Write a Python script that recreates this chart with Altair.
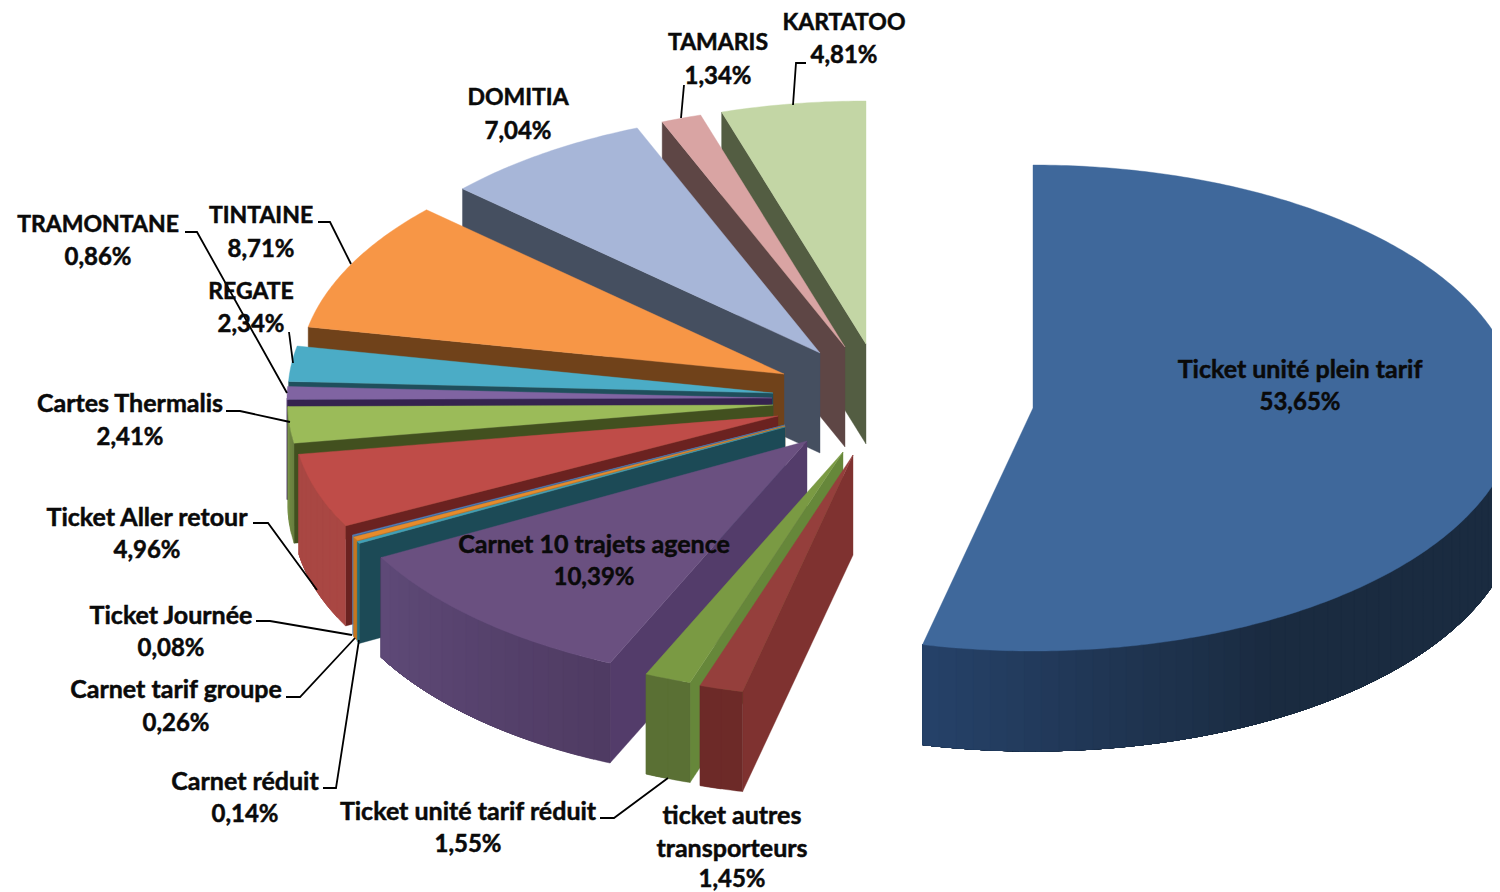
import math
import altair as alt

# --- data -------------------------------------------------------------
categories = ["Ticket unité plein tarif", "ticket autres transporteurs", "Ticket unité tarif réduit",
              "Carnet 10 trajets agence", "Carnet réduit", "Carnet tarif groupe", "Ticket Journée",
              "Ticket Aller retour", "Cartes Thermalis", "TRAMONTANE", "REGATE", "TINTAINE",
              "DOMITIA", "TAMARIS", "KARTATOO"]
values = [53.65, 1.45, 1.55, 10.39, 0.14, 0.26, 0.08, 4.96, 2.41, 0.86, 2.34, 8.71, 7.04, 1.34, 4.81]

# --- layout and style -------------------------------------------------
W, H = 1484, 884
RX, RY, DEPTH = 485, 243, 100
apex = [(1033, 408), (853, 455), (843, 452), (807, 441), (785, 427), (785, 426), (785, 425),
        (778, 416), (773, 405), (772, 398), (773, 393), (784, 374), (820, 353), (845, 347), (866, 344)]
top_col = ["#3f689b", "#953f3c", "#7a9a43", "#6a5080", "#3fa0b8", "#e78b2a", "#4f81bd", "#bf4c48",
           "#9bbb59", "#8064a2", "#4bacc6", "#f79646", "#a7b6d8", "#d9a4a3", "#c3d6a5"]
radial_col = ["#1a2c44", "#7f3230", "#66873a", "#533c6a", "#1c4a56", "#b86d1c", "#3a5f8c", "#6b2220",
              "#42501f", "#35234f", "#1f4f5c", "#70421a", "#454f60", "#5e4645", "#535d42"]
outer_a = ["#26426a", "#6d2a28", "#5a7034", "#5f4a78", "#1c6f80", "#c7761f", "#5c88b8", "#a94743",
           "#7f9a4a", "#6a5088", "#3a8a9f", "#b86d1c", "#7a88a8", "#a87e7d", "#93a67c"]
outer_b = ["#1a2b40", "#6d2a28", "#5a7034", "#4f3b63", "#1c6f80", "#c7761f", "#5c88b8", "#a94743",
           "#6a8040", "#6a5088", "#3a8a9f", "#b86d1c", "#7a88a8", "#a87e7d", "#93a67c"]
paint_order = [14, 13, 12, 11, 10, 9, 8, 7, 6, 5, 4, 3, 0, 2, 1]

label_lines = {
    0: [(1300, 369), (1300, 401)], 1: [(732, 815), (732, 848), (732, 878)], 2: [(468, 811), (468, 843)],
    3: [(594, 544), (594, 576)], 4: [(245, 781), (245, 813)], 5: [(176, 689), (176, 722)],
    6: [(171, 615), (171, 647)], 7: [(147, 517), (147, 549)], 8: [(130, 403), (130, 436)],
    9: [(98, 224), (98, 256)], 10: [(251, 291), (251, 323)], 11: [(261, 215), (261, 248)],
    12: [(518, 97), (518, 130)], 13: [(718, 42), (718, 75)], 14: [(844, 22), (844, 54)],
}
NAME_NUDGE, PCT_NUDGE = 0.5, 1.5
leaders = [
    [(806, 63), (796, 63), (793, 105)], [(684, 85), (681, 118)], [(318, 222), (330, 222), (351, 264)],
    [(185, 232), (197, 232), (287, 393)], [(289, 332), (293, 363)], [(226, 411), (240, 411), (290, 422)],
    [(253, 523), (268, 523), (317, 590)], [(256, 621), (270, 621), (352, 635)],
    [(286, 697), (300, 697), (355, 638)], [(323, 788), (336, 788), (359, 640)],
    [(600, 818), (614, 818), (668, 778)],
]
PAGE = 8


def lerp_hex(c0, c1, t):
    a = [int(c0[i:i + 2], 16) for i in (1, 3, 5)]
    b = [int(c1[i:i + 2], 16) for i in (1, 3, 5)]
    return "#%02x%02x%02x" % tuple(round(x + (y - x) * t) for x, y in zip(a, b))


def pt(i, deg, dy=0):
    ax, ay = apex[i]
    r = math.radians(deg)
    return [ax + RX * math.sin(r) - PAGE, ay - RY * math.cos(r) + dy - PAGE]


def centre(i, dy=0):
    return [apex[i][0] - PAGE, apex[i][1] + dy - PAGE]


def poly(points, colour):
    return {"type": "Feature", "properties": {"c": colour},
            "geometry": {"type": "Polygon", "coordinates": [points + [points[0]]]}}


def arc(i, a, b, dy=0):
    n = max(2, int(abs(b - a) * 1.5))
    return [pt(i, a + (b - a) * k / n, dy) for k in range(n + 1)]


total = sum(values)
starts, acc = [], 0.0
for v in values:
    starts.append(acc)
    acc += v * 360.0 / total

features = []
for i in paint_order:
    a0, a1 = starts[i], starts[i] + values[i] * 360.0 / total
    # radial wall on the start edge, visible on the left half
    if a0 > 180:
        features.append(poly([centre(i), pt(i, a0), pt(i, a0, DEPTH), centre(i, DEPTH)], radial_col[i]))
    # outer wall: overlapping bands, each reaching to the far end, give a seamless shading
    lo, hi = max(a0, 90), min(a1, 270)
    if hi > lo:
        dark_from = max(lo, 150)
        n = max(1, int((hi - lo) / 2))
        for k in range(n):
            s0 = lo + (hi - lo) * k / n
            t = min(1.0, max(0.0, (s0 - dark_from) / max(hi - dark_from, 1e-6)))
            features.append(poly(arc(i, s0, hi) + arc(i, hi, s0, DEPTH),
                                 lerp_hex(outer_b[i], outer_a[i], t)))
    # top face
    features.append(poly([centre(i)] + arc(i, a0, a1), top_col[i]))

leader_feats = [{"type": "Feature", "properties": {},
                 "geometry": {"type": "LineString",
                              "coordinates": [[x - PAGE, y - PAGE] for x, y in line]}} for line in leaders]

text_rows = []
for i, name in enumerate(categories):
    lines = ["ticket autres", "transporteurs"] if i == 1 else [name]
    lines = lines + [f"{values[i]:.2f}".replace(".", ",") + "%"]
    for (x, y), t in zip(label_lines[i], lines):
        pct = t.endswith("%")
        size = 24 if pct else (23 if t.isupper() else 25)
        text_rows.append({"t": t, "px": x - PAGE, "py": y - PAGE + (PCT_NUDGE if pct else NAME_NUDGE), "fs": size})

proj = dict(type="identity", scale=1, translate=[0, 0])

faces = alt.Chart(alt.Data(values=features)).mark_geoshape(strokeWidth=0.4).encode(
    fill=alt.Color("properties.c:N", scale=None),
    stroke=alt.Color("properties.c:N", scale=None),
).project(**proj)

lines_layer = alt.Chart(alt.Data(values=leader_feats)).mark_geoshape(
    filled=False, stroke="#000000", strokeWidth=1.8).project(**proj)

texts = alt.Chart(alt.Data(values=text_rows)).mark_text(
    font="Lato", fontWeight="bold", color="#0a0a0a", align="center", baseline="middle",
    stroke="#0a0a0a", strokeWidth=0.5
).encode(
    x=alt.X("px:Q", scale=None, axis=None),
    y=alt.Y("py:Q", scale=None, axis=None),
    text="t:N",
    size=alt.Size("fs:Q", scale=None, legend=None),
)

chart = alt.layer(faces, lines_layer, texts).properties(
    width=W, height=H, padding=0, autosize=alt.AutoSizeParams(type="none"), background="#ffffff"
).configure_view(stroke=None)

chart.save("out.html", embed_options={"renderer": "svg", "actions": False})
